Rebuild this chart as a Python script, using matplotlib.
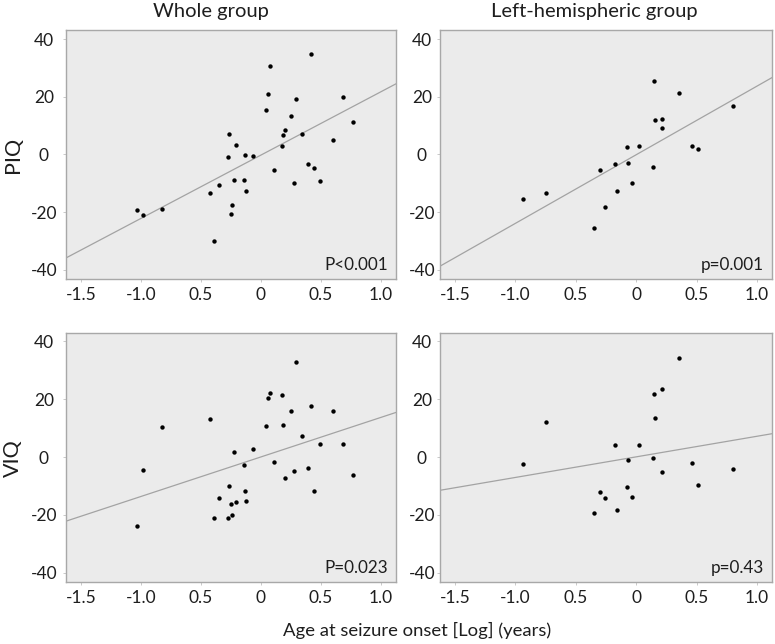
import numpy as np
import matplotlib
matplotlib.use("Agg")
import matplotlib.pyplot as plt

plt.rcParams['font.family'] = ['Lato', 'DejaVu Sans']

# ---- data ----
whole_x = [-1.031, -0.981, -0.825, -0.425, -0.394, -0.347, -0.275, -0.269, -0.250, -0.239,
           -0.222, -0.208, -0.144, -0.133, -0.125, -0.064, 0.039, 0.058, 0.072, 0.106,
           0.178, 0.186, 0.197, 0.253, 0.272, 0.292, 0.344, 0.389, 0.417, 0.442,
           0.492, 0.600, 0.683, 0.764]
whole_piq = [-19.4, -21.0, -19.0, -13.2, -30.0, -10.6, -1.0, 7.2, -20.5, -17.5,
             -8.8, 3.4, -9.0, -0.3, -12.7, -0.5, 15.4, 21.0, 30.7, -5.5,
             2.8, 6.7, 8.4, 13.5, -10.0, 19.4, 7.1, -3.4, 34.9, -4.6,
             -9.2, 4.9, 19.9, 11.2]
whole_viq = [-24.0, -4.4, 10.4, 13.0, -21.2, -14.3, -21.2, -9.9, -16.1, -20.2,
             1.8, -15.5, -2.8, -11.9, -15.2, 2.7, 10.7, 20.4, 22.0, -1.8,
             21.3, 11.1, -7.3, 15.8, -4.8, 32.8, 7.1, -3.9, 17.5, -11.9,
             4.5, 15.9, 4.5, -6.1]

left_x = [-0.935, -0.745, -0.347, -0.303, -0.259, -0.178, -0.156, -0.076, -0.065, -0.035,
          0.026, 0.137, 0.145, 0.159, 0.211, 0.217, 0.355, 0.462, 0.515, 0.805]
left_piq = [-15.5, -13.4, -25.5, -5.4, -18.3, -3.4, -12.5, 2.7, -3.1, -9.8,
            3.1, -4.3, 25.5, 12.0, 12.3, 9.3, 21.2, 3.0, 2.0, 16.8]
left_viq = [-2.3, 12.2, -19.3, -12.2, -14.3, 4.0, -18.3, -10.3, -0.9, -13.9,
            4.2, -0.4, 21.9, 13.6, 23.6, -5.3, 34.2, -2.0, -9.8, -4.2]

titles = ["Whole group", "Left-hemispheric group"]
row_labels = ["PIQ", "VIQ"]
p_labels = [["P<0.001", "p=0.001"], ["P=0.023", "p=0.43"]]
x_ticks = [-1.5, -1.0, -0.5, 0.0, 0.5, 1.0]
x_tick_labels = ["-1.5", "-1.0", "0.5", "0", "0.5", "1.0"]
y_ticks = [40, 20, 0, -20, -40]
y_tick_labels = ["40", "20", "0", "-20", "-40"]
x_label = "Age at seizure onset [Log] (years)"

panels = [[(whole_x, whole_piq), (left_x, left_piq)],
          [(whole_x, whole_viq), (left_x, left_viq)]]

# ---- layout ----
W, H = 775, 644
fig = plt.figure(figsize=(W / 100, H / 100), dpi=100)
fig.patch.set_facecolor('white')

lefts = [66, 440]
rights = [396, 772]
tops = [30.5, 332.5]
bottoms = [278.5, 581.5]
xlim = (-1.625, 1.125)
ylim = (-43, 43)
text_col = '#1e1e1e'

for r in range(2):
    for c in range(2):
        ax = fig.add_axes([lefts[c] / W, 1 - bottoms[r] / H,
                           (rights[c] - lefts[c]) / W, (bottoms[r] - tops[r]) / H])
        ax.set_facecolor('#ebebeb')
        for s in ax.spines.values():
            s.set_color('#a8a8a8')
            s.set_linewidth(1.0)
        xs, ys = panels[r][c]
        xs = np.asarray(xs); ys = np.asarray(ys)
        b, a = np.polyfit(xs, ys, 1)
        lx = np.array(xlim)
        ax.plot(lx, a + b * lx, color='#a3a3a3', lw=0.9, zorder=2)
        ax.scatter(xs, ys, s=10, color='black', zorder=3, linewidths=0)
        ax.set_xlim(*xlim)
        ax.set_ylim(*ylim)
        ax.set_xticks(x_ticks)
        ax.set_xticklabels(x_tick_labels)
        ax.set_yticks(y_ticks)
        ax.set_yticklabels(y_tick_labels)
        ax.tick_params(axis='both', length=2, width=0.6, color='#c0c0c0',
                       labelsize=12.5, labelcolor=text_col)
        ax.tick_params(axis='x', pad=4)
        ax.tick_params(axis='y', pad=14 if c == 0 else 11)
        for lab in ax.get_yticklabels():
            lab.set_horizontalalignment('center')
        ax.text(0.975, 0.055, p_labels[r][c], transform=ax.transAxes,
                ha='right', va='center', fontsize=12.3, color=text_col)

# titles
fig.text(211 / W, 1 - 11 / H, titles[0], ha='center', va='center', fontsize=14.5, color=text_col)
fig.text(594 / W, 1 - 11 / H, titles[1], ha='center', va='center', fontsize=14.5, color=text_col)
# row labels
fig.text(13 / W, 1 - 155 / H, row_labels[0], rotation=90, ha='center', va='center', fontsize=15.5, color=text_col)
fig.text(13 / W, 1 - 458 / H, row_labels[1], rotation=90, ha='center', va='center', fontsize=15.5, color=text_col)
# x label
fig.text(417 / W, 1 - 630 / H, x_label, ha='center', va='center', fontsize=13.3, color=text_col)

fig.savefig('out.png', dpi=100, facecolor='white')
